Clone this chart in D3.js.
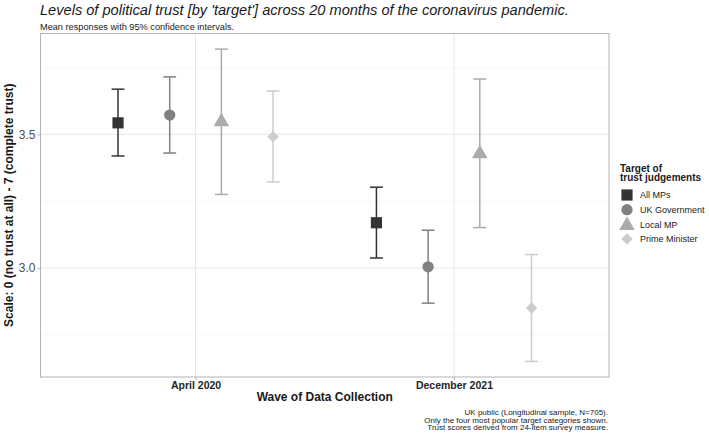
<!DOCTYPE html>
<html>
<head>
<meta charset="utf-8">
<script src="https://cdn.jsdelivr.net/npm/d3@7"></script>
<style>
  body { margin: 0; background: #fff; }
  text { font-family: "Liberation Sans", Arial, sans-serif; }
</style>
</head>
<body>
<div id="chart"></div>
<script>
// data
const waves = ['April 2020', 'December 2021'];
const targets = ['All MPs', 'UK Government', 'Local MP', 'Prime Minister'];
const shapes = ['square', 'circle', 'triangle', 'diamond'];
const colours = ['#333333', '#818181', '#ababab', '#cccccc'];

// mean, lower, upper per target, one per wave
const meanApr = [3.543, 3.572, 3.551, 3.491];
const lowApr  = [3.419, 3.430, 3.275, 3.322];
const upApr   = [3.669, 3.715, 3.819, 3.662];
const meanDec = [3.169, 3.004, 3.431, 2.850];
const lowDec  = [3.037, 2.868, 3.151, 2.650];
const upDec   = [3.302, 3.141, 3.707, 3.050];

const yTicks = [3.0, 3.5];
const yMinor = [2.75, 3.25, 3.75];

const rows = [];
targets.forEach((t, i) => {
  rows.push({ wave: waves[0], target: t, i: i, mean: meanApr[i], lo: lowApr[i], hi: upApr[i] });
  rows.push({ wave: waves[1], target: t, i: i, mean: meanDec[i], lo: lowDec[i], hi: upDec[i] });
});

const W = 709, H = 436;
const panel = { left: 40.5, right: 609, top: 33.5, bottom: 377 };

const svg = d3.select('#chart').append('svg').attr('width', W).attr('height', H);

// scales
const x = d3.scalePoint().domain(waves).range([panel.left, panel.right]).padding(0.6);
const dodge = x.step() * 0.8 / targets.length;
const xPos = d => x(d.wave) + (d.i - (targets.length - 1) / 2) * dodge;

const lo = d3.min(rows, d => d.lo), hi = d3.max(rows, d => d.hi);
const pad = (hi - lo) * 0.05;
const y = d3.scaleLinear().domain([lo - pad, hi + pad]).range([panel.bottom, panel.top]);

// grid
const g = svg.append('g');
g.selectAll('.minor').data(yMinor).enter().append('line')
  .attr('x1', panel.left).attr('x2', panel.right)
  .attr('y1', d => y(d)).attr('y2', d => y(d))
  .attr('stroke', '#f2f2f2').attr('stroke-width', 0.6);
g.selectAll('.major').data(yTicks).enter().append('line')
  .attr('x1', panel.left).attr('x2', panel.right)
  .attr('y1', d => y(d)).attr('y2', d => y(d))
  .attr('stroke', '#e6e6e6').attr('stroke-width', 1);
g.selectAll('.vmajor').data(waves).enter().append('line')
  .attr('x1', d => x(d)).attr('x2', d => x(d))
  .attr('y1', panel.top).attr('y2', panel.bottom)
  .attr('stroke', '#e6e6e6').attr('stroke-width', 1);

// error bars
const cap = x.step() * 0.05 / 2;
const eb = svg.append('g').selectAll('g').data(rows).enter().append('g')
  .attr('stroke', d => colours[d.i]).attr('stroke-width', 1.5).attr('fill', 'none');
eb.append('line').attr('x1', xPos).attr('x2', xPos).attr('y1', d => y(d.lo)).attr('y2', d => y(d.hi));
eb.append('line').attr('x1', d => xPos(d) - cap).attr('x2', d => xPos(d) + cap).attr('y1', d => y(d.lo)).attr('y2', d => y(d.lo));
eb.append('line').attr('x1', d => xPos(d) - cap).attr('x2', d => xPos(d) + cap).attr('y1', d => y(d.hi)).attr('y2', d => y(d.hi));

// point symbols (diamond = square turned 45deg, like ggplot shape 18)
const symbolFor = {
  square: d3.symbol().type(d3.symbolSquare).size(125),
  circle: d3.symbol().type(d3.symbolCircle).size(100),
  triangle: d3.symbol().type(d3.symbolTriangle).size(105),
  diamond: d3.symbol().type(d3.symbolSquare).size(66)
};
const shapeTransform = s => (s === 'triangle' ? ' translate(0,1)' : '') + (s === 'diamond' ? ' rotate(45)' : '');
svg.append('g').selectAll('path').data(rows).enter().append('path')
  .attr('d', d => symbolFor[shapes[d.i]]())
  .attr('transform', d => `translate(${xPos(d)},${y(d.mean)})` + shapeTransform(shapes[d.i]))
  .attr('fill', d => colours[d.i]);

// panel border
svg.append('rect').attr('x', panel.left).attr('y', panel.top)
  .attr('width', panel.right - panel.left).attr('height', panel.bottom - panel.top)
  .attr('fill', 'none').attr('stroke', '#b3b3b3').attr('stroke-width', 1);

// axes
const xAxis = svg.append('g').attr('transform', `translate(0,${panel.bottom})`)
  .call(d3.axisBottom(x).tickSize(3).tickPadding(2));
xAxis.select('.domain').remove();
xAxis.selectAll('line').attr('stroke', '#b3b3b3');
xAxis.selectAll('text').attr('font-size', 10.5).attr('font-weight', 'bold').attr('fill', '#262626')
  .attr('font-family', '"Liberation Sans", Arial, sans-serif');

const yAxis = svg.append('g').attr('transform', `translate(${panel.left},0)`)
  .call(d3.axisLeft(y).tickValues(yTicks).tickFormat(d3.format('.1f')).tickSize(3).tickPadding(2));
yAxis.select('.domain').remove();
yAxis.selectAll('line').attr('stroke', '#b3b3b3');
yAxis.selectAll('text').attr('font-size', 12).attr('fill', '#4d4d4d')
  .attr('font-family', '"Liberation Sans", Arial, sans-serif');

// titles
svg.append('text').attr('x', 40).attr('y', 15).attr('font-size', 14.6).attr('font-style', 'italic')
  .attr('fill', '#1a1a1a')
  .text("Levels of political trust [by 'target'] across 20 months of the coronavirus pandemic.");
svg.append('text').attr('x', 40).attr('y', 29.5).attr('font-size', 9.2).attr('fill', '#1a1a1a')
  .text('Mean responses with 95% confidence intervals.');

svg.append('text').attr('x', (panel.left + panel.right) / 2).attr('y', 401)
  .attr('text-anchor', 'middle').attr('font-size', 12).attr('font-weight', 'bold').attr('fill', '#1a1a1a')
  .text('Wave of Data Collection');
svg.append('text').attr('transform', `translate(13,${(panel.top + panel.bottom) / 2}) rotate(-90)`)
  .attr('text-anchor', 'middle').attr('font-size', 12).attr('font-weight', 'bold').attr('fill', '#1a1a1a')
  .text('Scale: 0 (no trust at all) - 7 (complete trust)');

// caption
const captionLines = [
  'UK public (Longitudinal sample, N=705).',
  'Only the four most popular target categories shown.',
  'Trust scores derived from 24-item survey measure.'
];
svg.append('g').selectAll('text').data(captionLines).enter().append('text')
  .attr('x', panel.right - 1).attr('y', (d, i) => 415 + i * 7.7)
  .attr('text-anchor', 'end').attr('font-size', 8).attr('fill', '#1a1a1a')
  .text(d => d);

// legend
const leg = svg.append('g').attr('transform', 'translate(620,0)');
leg.append('text').attr('x', 0).attr('y', 171.5).attr('font-size', 10).attr('font-weight', 'bold').attr('fill', '#1a1a1a').text('Target of');
leg.append('text').attr('x', 0).attr('y', 181).attr('font-size', 10).attr('font-weight', 'bold').attr('fill', '#1a1a1a').text('trust judgements');
const keys = leg.selectAll('.key').data(targets).enter().append('g')
  .attr('transform', (d, i) => `translate(0,${195 + i * 14.7})`);
keys.append('path').attr('d', (d, i) => symbolFor[shapes[i]]())
  .attr('transform', (d, i) => 'translate(7,0)' + shapeTransform(shapes[i]))
  .attr('fill', (d, i) => colours[i]);
keys.append('text').attr('x', 20).attr('y', 3.3).attr('font-size', 9).attr('fill', '#1a1a1a').text(d => d);
</script>
</body>
</html>
